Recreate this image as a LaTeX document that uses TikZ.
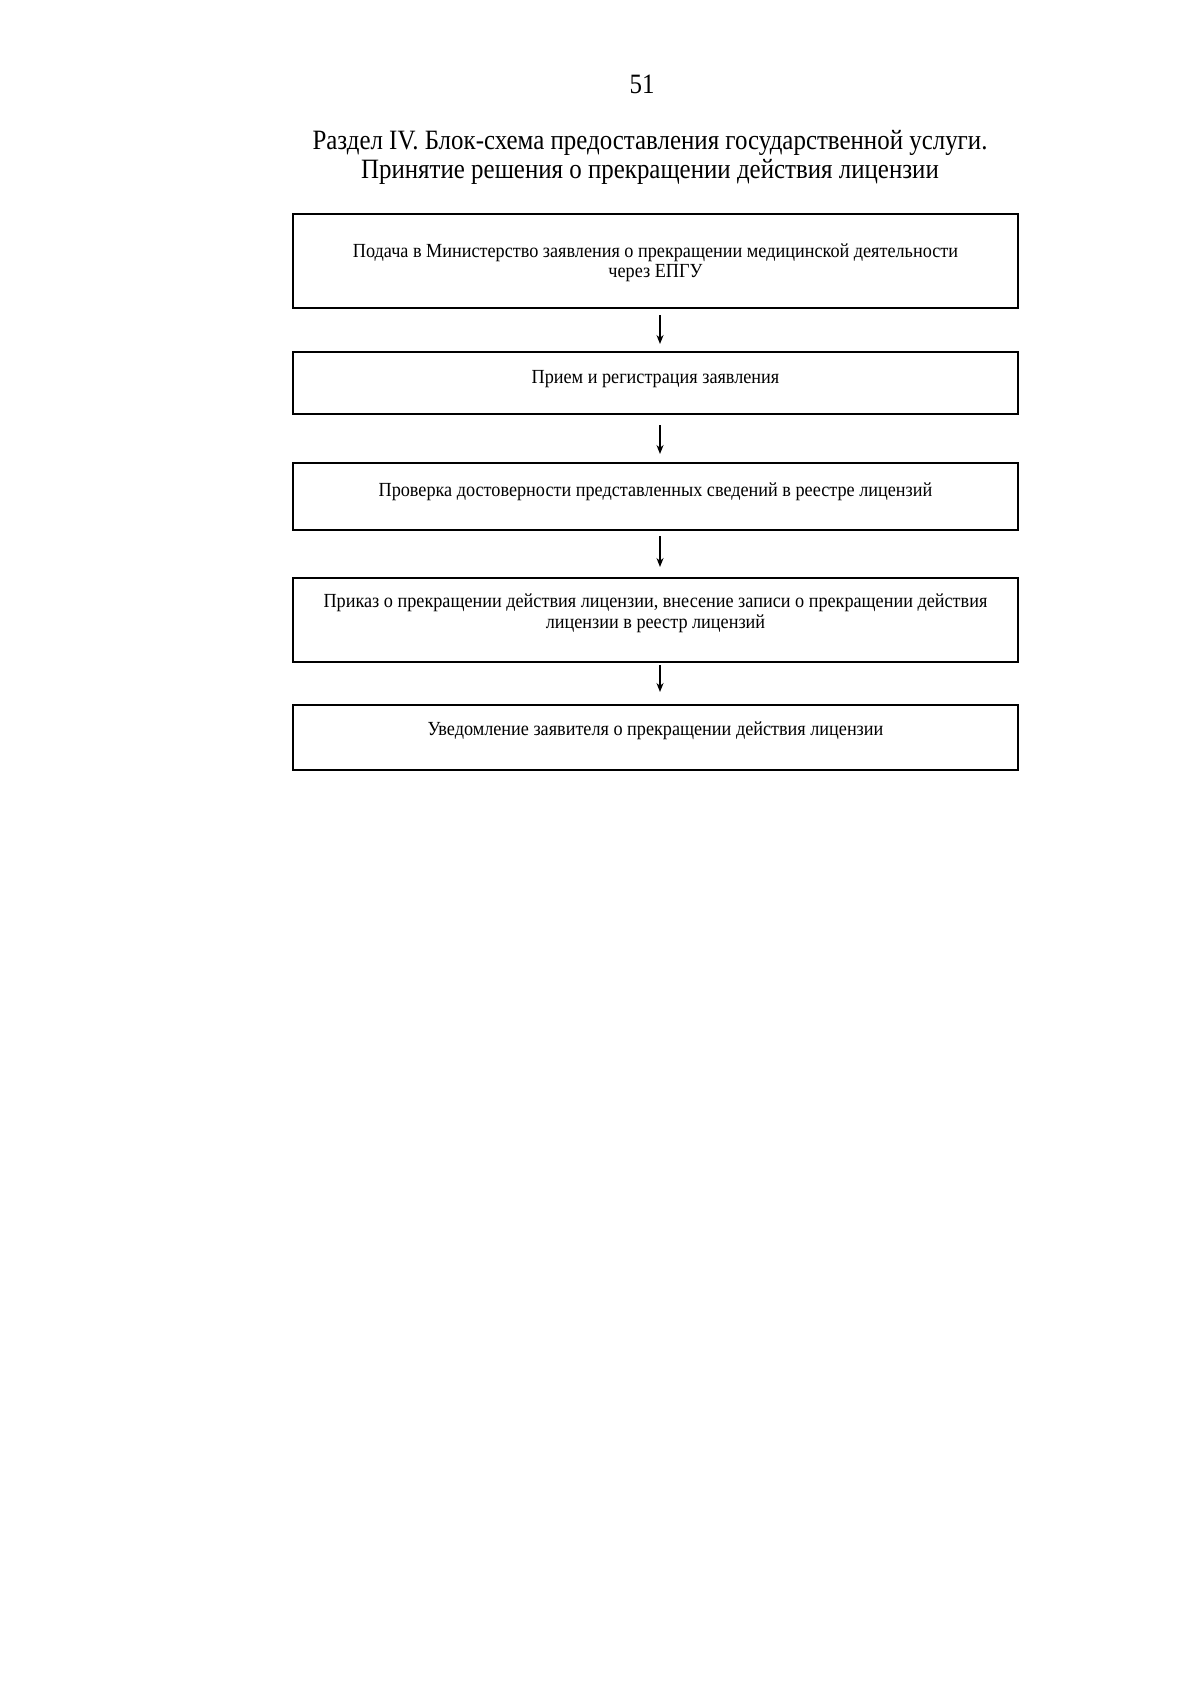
\documentclass[tikz,border=0pt]{standalone}
\usepackage{fontspec}
\setmainfont{Liberation Serif}
\newfontfamily\titlefont[FakeStretch=0.89]{Liberation Serif}
\newfontfamily\boxfont[FakeStretch=0.91]{Liberation Serif}
\usetikzlibrary{arrows.meta}
\begin{document}
\begin{tikzpicture}[x=1pt,y=-1pt,
  stepbox/.style={draw=black,line width=2pt,minimum width=725pt,inner sep=0pt},
  boxtxt/.style={font=\boxfont\fontsize{20}{21}\selectfont,align=center,anchor=base,inner sep=0pt},
  titletxt/.style={font=\titlefont\fontsize{28}{29}\selectfont,anchor=base,inner sep=0pt},
  flow/.style={line width=1.4pt,-{Stealth[length=9pt,width=7pt]}}]
\useasboundingbox[fill=white] (0,0) rectangle (1200,1695);
% page number and title
\node[titletxt] (pnum) at (642,93) {51};
\node[titletxt] (t1) at (650,149) {Раздел IV. Блок-схема предоставления государственной услуги.};
\node[titletxt] (t2) at (650,178) {Принятие решения о прекращении действия лицензии};
% boxes
\node[stepbox,minimum height=94pt] (b1) at (655.5,261) {};
\node[stepbox,minimum height=62pt] (b2) at (655.5,383) {};
\node[stepbox,minimum height=67pt] (b3) at (655.5,496.5) {};
\node[stepbox,minimum height=84pt] (b4) at (655.5,620) {};
\node[stepbox,minimum height=65pt] (b5) at (655.5,737.5) {};
% texts
\node[boxtxt] (x1a) at (655.5,257) {Подача в Министерство заявления о прекращении медицинской деятельности};
\node[boxtxt] (x1b) at (655.5,277) {через ЕПГУ};
\node[boxtxt] (x2) at (655.5,383) {Прием и регистрация заявления};
\node[boxtxt] (x3) at (655.5,496) {Проверка достоверности представленных сведений в реестре лицензий};
\node[boxtxt] (x4a) at (655.5,607) {Приказ о прекращении действия лицензии, внесение записи о прекращении действия};
\node[boxtxt] (x4b) at (655.5,628) {лицензии в реестр лицензий};
\node[boxtxt] (x5) at (655.5,735) {Уведомление заявителя о прекращении действия лицензии};
% arrows
\coordinate (a1s) at (660,315); \coordinate (a1e) at (660,344);
\coordinate (a2s) at (660,425); \coordinate (a2e) at (660,454);
\coordinate (a3s) at (660,536); \coordinate (a3e) at (660,567);
\coordinate (a4s) at (660,665); \coordinate (a4e) at (660,692);
\draw[flow] (a1s) -- (a1e);
\draw[flow] (a2s) -- (a2e);
\draw[flow] (a3s) -- (a3e);
\draw[flow] (a4s) -- (a4e);
\end{tikzpicture}
\end{document}
